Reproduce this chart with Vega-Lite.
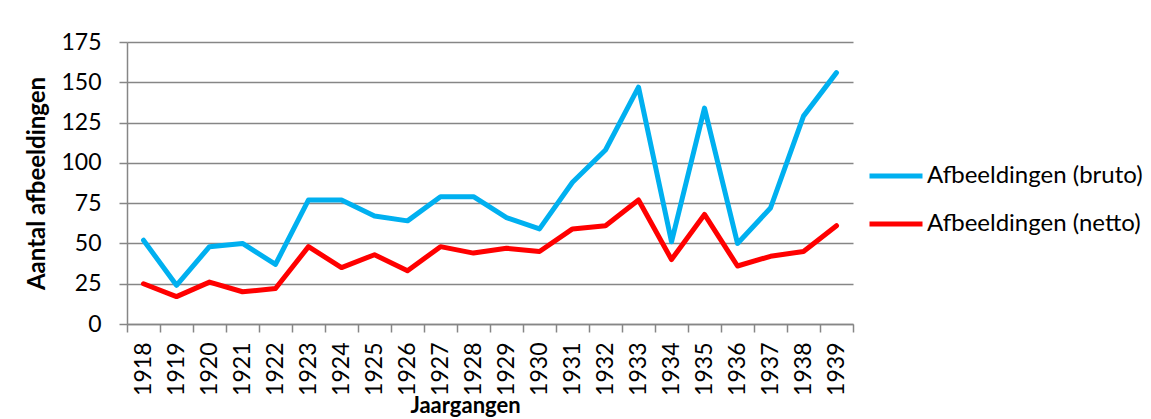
{
  "$schema": "https://vega.github.io/schema/vega-lite/v6.json",
  "autosize": {"type": "none"},
  "padding": {"left": 127, "top": 42, "right": 298, "bottom": 95},
  "width": 726,
  "height": 282,
  "background": "white",
  "data": {
    "values": [
      {"jaar": "1918", "reeks": "Afbeeldingen (bruto)", "aantal": 52},
      {"jaar": "1919", "reeks": "Afbeeldingen (bruto)", "aantal": 24},
      {"jaar": "1920", "reeks": "Afbeeldingen (bruto)", "aantal": 48},
      {"jaar": "1921", "reeks": "Afbeeldingen (bruto)", "aantal": 50},
      {"jaar": "1922", "reeks": "Afbeeldingen (bruto)", "aantal": 37},
      {"jaar": "1923", "reeks": "Afbeeldingen (bruto)", "aantal": 77},
      {"jaar": "1924", "reeks": "Afbeeldingen (bruto)", "aantal": 77},
      {"jaar": "1925", "reeks": "Afbeeldingen (bruto)", "aantal": 67},
      {"jaar": "1926", "reeks": "Afbeeldingen (bruto)", "aantal": 64},
      {"jaar": "1927", "reeks": "Afbeeldingen (bruto)", "aantal": 79},
      {"jaar": "1928", "reeks": "Afbeeldingen (bruto)", "aantal": 79},
      {"jaar": "1929", "reeks": "Afbeeldingen (bruto)", "aantal": 66},
      {"jaar": "1930", "reeks": "Afbeeldingen (bruto)", "aantal": 59},
      {"jaar": "1931", "reeks": "Afbeeldingen (bruto)", "aantal": 88},
      {"jaar": "1932", "reeks": "Afbeeldingen (bruto)", "aantal": 108},
      {"jaar": "1933", "reeks": "Afbeeldingen (bruto)", "aantal": 147},
      {"jaar": "1934", "reeks": "Afbeeldingen (bruto)", "aantal": 51},
      {"jaar": "1935", "reeks": "Afbeeldingen (bruto)", "aantal": 134},
      {"jaar": "1936", "reeks": "Afbeeldingen (bruto)", "aantal": 50},
      {"jaar": "1937", "reeks": "Afbeeldingen (bruto)", "aantal": 72},
      {"jaar": "1938", "reeks": "Afbeeldingen (bruto)", "aantal": 129},
      {"jaar": "1939", "reeks": "Afbeeldingen (bruto)", "aantal": 156},
      {"jaar": "1918", "reeks": "Afbeeldingen (netto)", "aantal": 25},
      {"jaar": "1919", "reeks": "Afbeeldingen (netto)", "aantal": 17},
      {"jaar": "1920", "reeks": "Afbeeldingen (netto)", "aantal": 26},
      {"jaar": "1921", "reeks": "Afbeeldingen (netto)", "aantal": 20},
      {"jaar": "1922", "reeks": "Afbeeldingen (netto)", "aantal": 22},
      {"jaar": "1923", "reeks": "Afbeeldingen (netto)", "aantal": 48},
      {"jaar": "1924", "reeks": "Afbeeldingen (netto)", "aantal": 35},
      {"jaar": "1925", "reeks": "Afbeeldingen (netto)", "aantal": 43},
      {"jaar": "1926", "reeks": "Afbeeldingen (netto)", "aantal": 33},
      {"jaar": "1927", "reeks": "Afbeeldingen (netto)", "aantal": 48},
      {"jaar": "1928", "reeks": "Afbeeldingen (netto)", "aantal": 44},
      {"jaar": "1929", "reeks": "Afbeeldingen (netto)", "aantal": 47},
      {"jaar": "1930", "reeks": "Afbeeldingen (netto)", "aantal": 45},
      {"jaar": "1931", "reeks": "Afbeeldingen (netto)", "aantal": 59},
      {"jaar": "1932", "reeks": "Afbeeldingen (netto)", "aantal": 61},
      {"jaar": "1933", "reeks": "Afbeeldingen (netto)", "aantal": 77},
      {"jaar": "1934", "reeks": "Afbeeldingen (netto)", "aantal": 40},
      {"jaar": "1935", "reeks": "Afbeeldingen (netto)", "aantal": 68},
      {"jaar": "1936", "reeks": "Afbeeldingen (netto)", "aantal": 36},
      {"jaar": "1937", "reeks": "Afbeeldingen (netto)", "aantal": 42},
      {"jaar": "1938", "reeks": "Afbeeldingen (netto)", "aantal": 45},
      {"jaar": "1939", "reeks": "Afbeeldingen (netto)", "aantal": 61}
    ]
  },
  "mark": {"type": "line", "strokeWidth": 5, "strokeJoin": "round", "strokeCap": "round"},
  "encoding": {
    "x": {
      "field": "jaar",
      "type": "ordinal",
      "scale": {"type": "band", "paddingInner": 0, "paddingOuter": 0},
      "axis": {
        "title": "Jaargangen",
        "titleFontSize": 22,
        "labelAngle": 270,
        "tickBand": "extent",
        "tickSize": 8,
        "labelPadding": 10,
        "titlePadding": 0,
        "titleX": 338
      }
    },
    "y": {
      "field": "aantal",
      "type": "quantitative",
      "scale": {"domain": [0, 175], "nice": false},
      "axis": {
        "title": "Aantal afbeeldingen",
        "values": [0, 25, 50, 75, 100, 125, 150, 175],
        "tickSize": 8,
        "labelPadding": 18,
        "titlePadding": 11,
        "grid": true
      }
    },
    "color": {
      "field": "reeks",
      "type": "nominal",
      "scale": {
        "domain": ["Afbeeldingen (bruto)", "Afbeeldingen (netto)"],
        "range": ["#00B0F0", "#FF0000"]
      },
      "legend": {
        "title": null,
        "orient": "none",
        "legendX": 740,
        "legendY": 105,
        "symbolType": "stroke",
        "symbolSize": 2809,
        "symbolStrokeWidth": 5,
        "labelOffset": 2,
        "rowPadding": 7,
        "labelFont": "Lato",
        "labelFontSize": 24,
        "labelColor": "#000000",
        "labelLimit": 400
      }
    }
  },
  "config": {
    "view": {"stroke": null},
    "axis": {
      "labelFont": "Lato",
      "labelFontSize": 23,
      "labelColor": "#000000",
      "titleFont": "Lato",
      "titleFontSize": 24,
      "titleFontWeight": "bold",
      "titleColor": "#000000",
      "domainColor": "#868686",
      "domainWidth": 1.5,
      "tickColor": "#868686",
      "tickWidth": 1.5,
      "gridColor": "#868686",
      "gridWidth": 1.5,
      "gridOpacity": 1,
      "domainOpacity": 1
    }
  }
}
